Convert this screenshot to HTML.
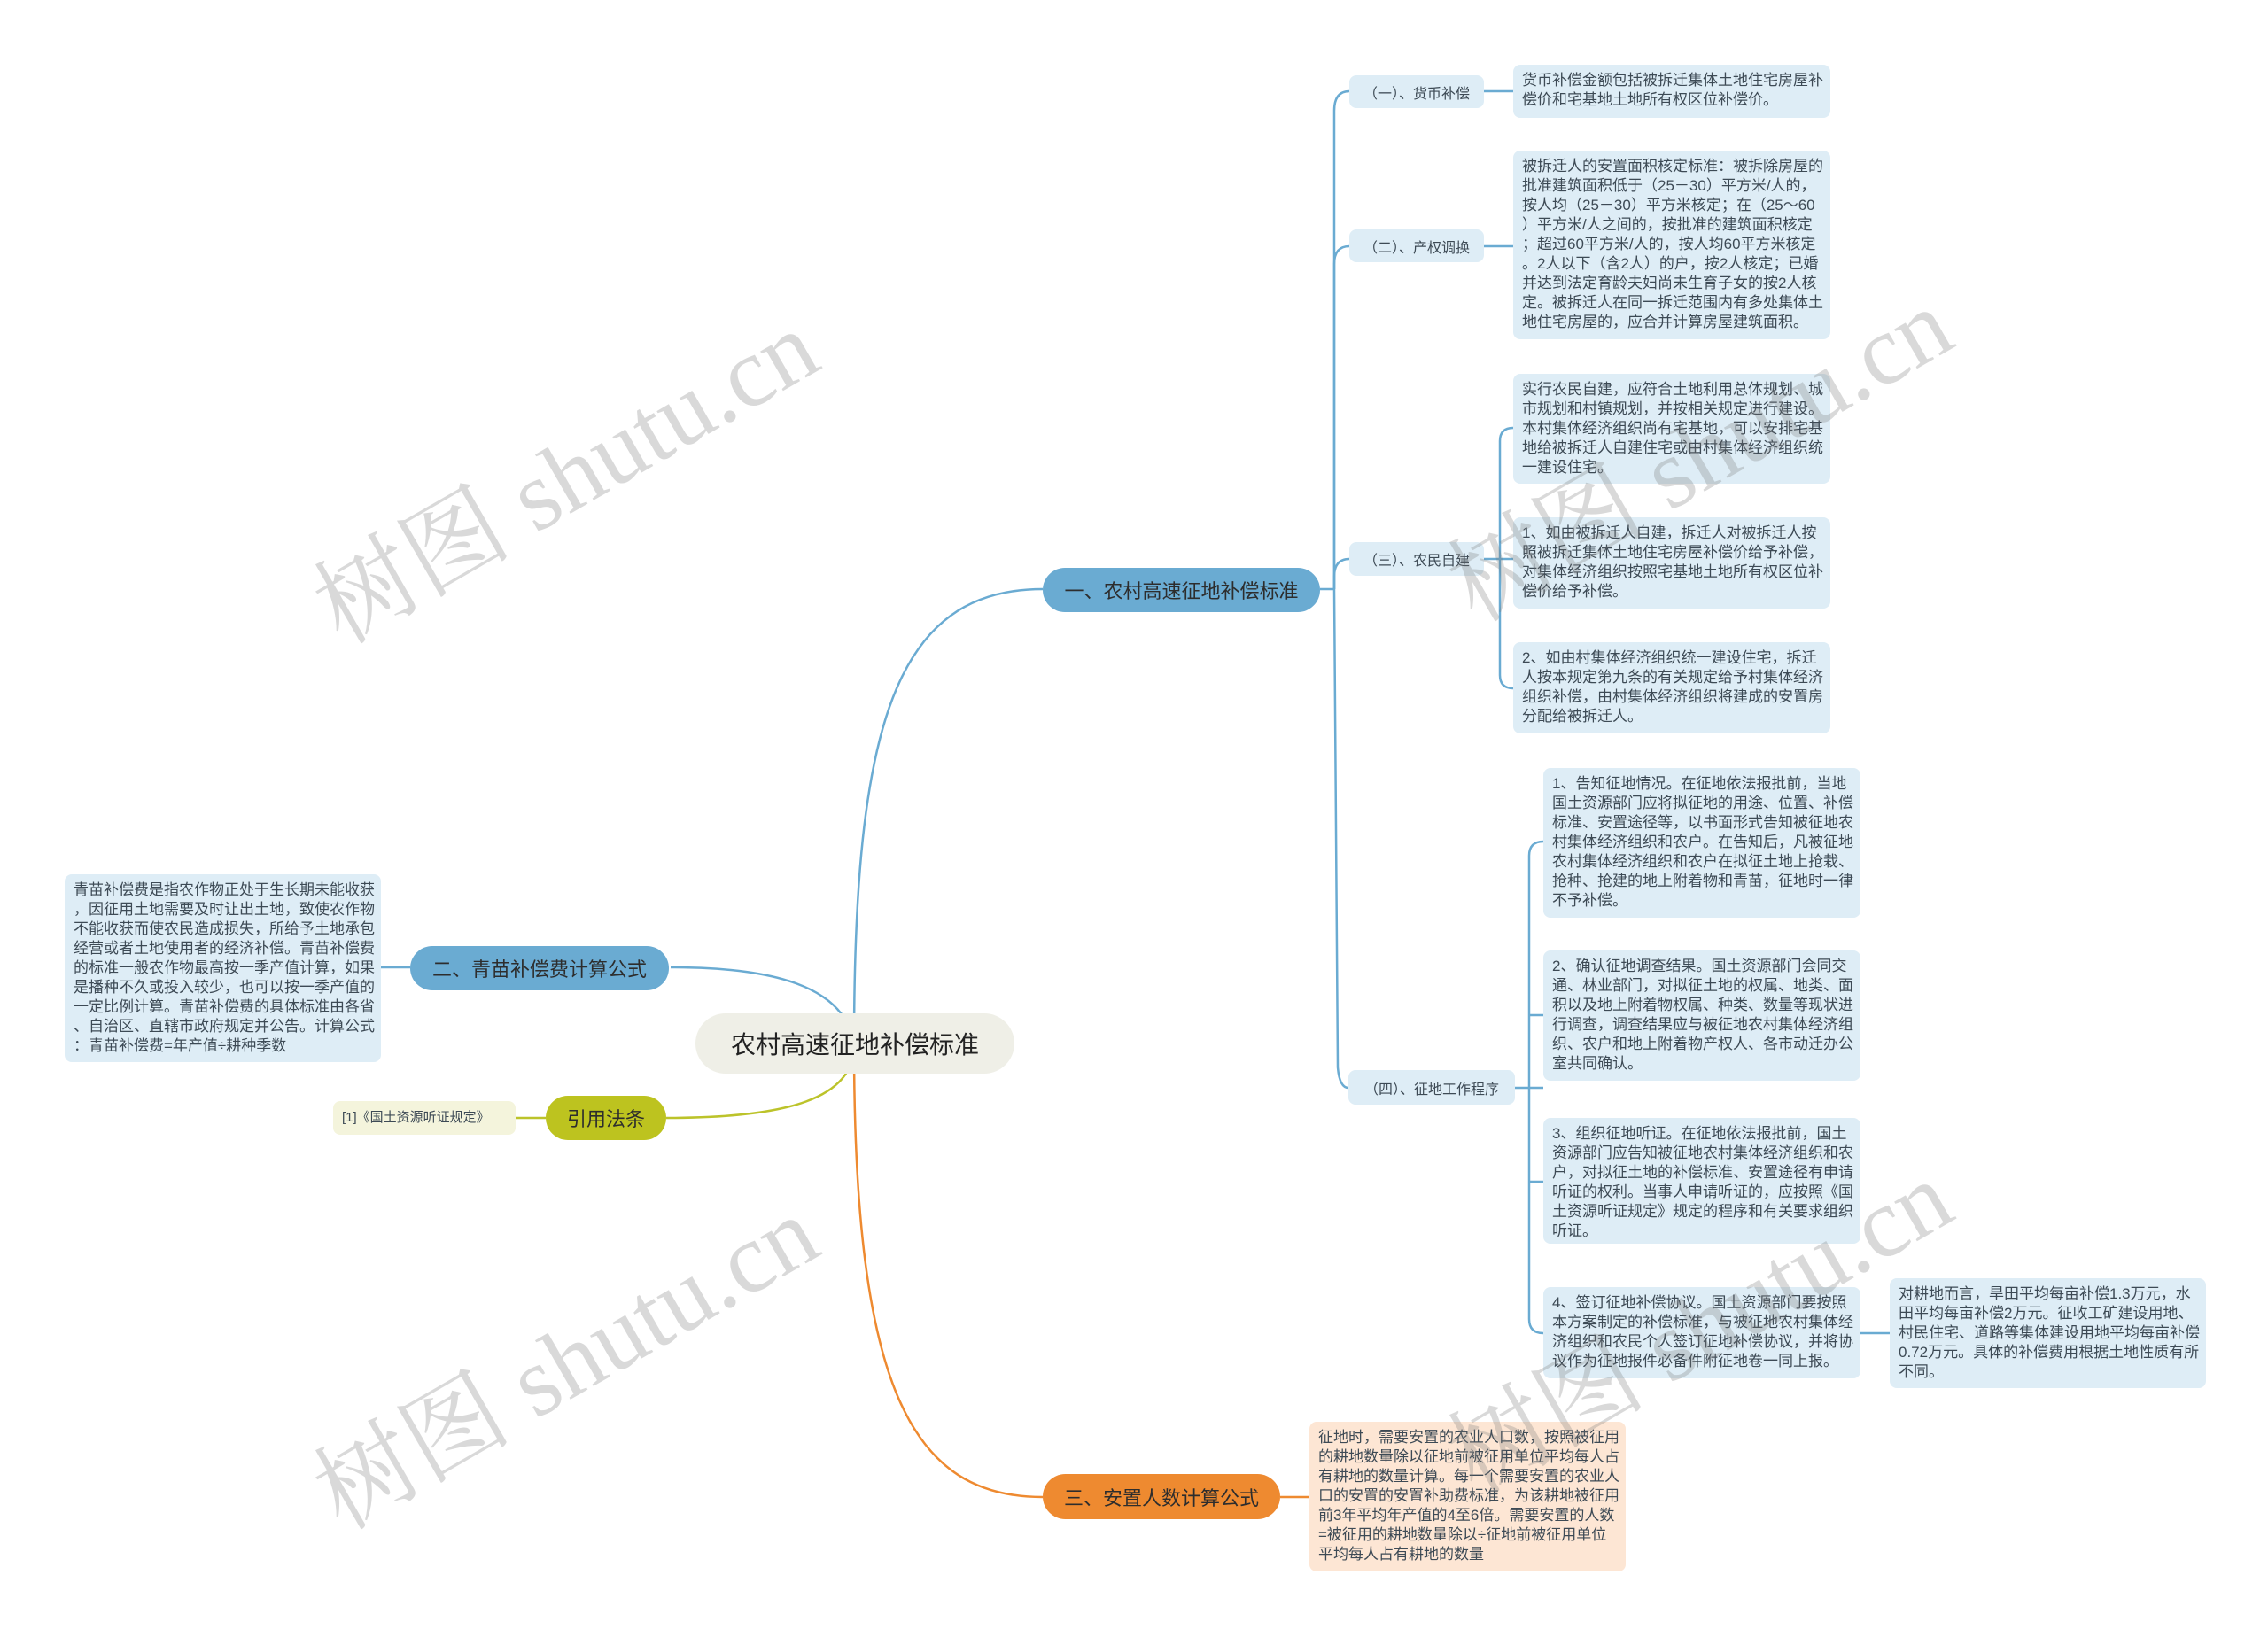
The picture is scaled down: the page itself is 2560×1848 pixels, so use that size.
<!DOCTYPE html>
<html><head><meta charset="utf-8">
<style>
html,body{margin:0;padding:0;}
body{width:2560px;height:1848px;position:relative;background:#fff;overflow:hidden;font-family:"Liberation Sans","Noto Sans CJK SC",sans-serif;color:#3a3a3a;}
.b{position:absolute;box-sizing:border-box;border-radius:8px;background:#deedf6;font-size:17px;line-height:22px;padding:7px 10px;white-space:nowrap;color:#3d4a55;}
.l{position:absolute;box-sizing:border-box;border-radius:8px;background:#deedf6;font-size:16px;display:flex;align-items:center;justify-content:center;white-space:nowrap;color:#3d4a55;}
.m{position:absolute;box-sizing:border-box;border-radius:26px;display:flex;align-items:center;justify-content:center;font-size:22px;white-space:nowrap;color:#2d2d2d;}
.wm{position:absolute;font-family:"Liberation Serif","Noto Serif CJK SC",serif;font-size:112px;color:rgba(120,120,120,0.28);white-space:nowrap;transform:rotate(-30deg);transform-origin:center;}
</style></head><body>
<svg width="2560" height="1848" style="position:absolute;left:0;top:0" fill="none" stroke-width="2.5">
<g stroke="#6aabd2">
<path d="M964,1180 C964,820 1010,665 1177,665"/>
<path d="M964,1180 C955,1112 870,1092 757,1092"/>
<path d="M1490,665 L1506,665"/>
<path d="M1506,665 L1506,125 Q1506,103 1523,103"/>
<path d="M1506,665 L1506,298 Q1506,278 1523,278"/>
<path d="M1506,665 L1506,651 Q1506,631 1523,631"/>
<path d="M1506,665 L1510,1205 Q1512,1228 1522,1228"/>
<path d="M1675,103 L1708,103"/>
<path d="M1675,278 L1708,278"/>
<path d="M1675,631 L1708,631"/>
<path d="M1708,483 Q1693,483 1693,498 L1693,762 Q1693,777 1708,777"/>
<path d="M1710,1228 L1742,1228"/>
<path d="M1742,950 Q1726,950 1726,966 L1726,1489 Q1726,1505 1742,1505"/>
<path d="M1726,1146 L1742,1146"/>
<path d="M1726,1334 L1742,1334"/>
<path d="M2100,1505 L2133,1505"/>
<path d="M430,1092 L463,1092"/>
</g>
<path d="M964,1180 C964,1240 890,1262 752,1262" stroke="#bcc32a"/>
<path d="M582,1262 L616,1262" stroke="#bcc32a"/>
<path d="M964,1180 C964,1570 1030,1690 1177,1690" stroke="#ee8a30"/>
<path d="M1445,1690 L1478,1690" stroke="#ee8a30"/>
</svg>

<div class="m" style="left:785px;top:1144px;width:360px;height:68px;border-radius:34px;background:#efefe7;font-size:28px;color:#222;">农村高速征地补偿标准</div>
<div class="m" style="left:1177px;top:641px;width:313px;height:50px;background:#6aabd2;">一、农村高速征地补偿标准</div>
<div class="m" style="left:463px;top:1068px;width:292px;height:50px;background:#6aabd2;">二、青苗补偿费计算公式</div>
<div class="m" style="left:616px;top:1237px;width:136px;height:50px;background:#bdc31f;">引用法条</div>
<div class="m" style="left:1177px;top:1664px;width:268px;height:51px;background:#ee8a30;">三、安置人数计算公式</div>

<div class="b" style="left:376px;top:1243px;width:206px;height:38px;background:#f4f4dc;font-size:15px;line-height:24px;">[1]《国土资源听证规定》</div>

<div class="b" style="left:73px;top:987px;width:357px;height:212px;">青苗补偿费是指农作物正处于生长期未能收获<br>，因征用土地需要及时让出土地，致使农作物<br>不能收获而使农民造成损失，所给予土地承包<br>经营或者土地使用者的经济补偿。青苗补偿费<br>的标准一般农作物最高按一季产值计算，如果<br>是播种不久或投入较少，也可以按一季产值的<br>一定比例计算。青苗补偿费的具体标准由各省<br>、自治区、直辖市政府规定并公告。计算公式<br>：青苗补偿费=年产值÷耕种季数</div>

<div class="l" style="left:1523px;top:85px;width:152px;height:37px;">（一）、货币补偿</div>
<div class="l" style="left:1523px;top:259px;width:152px;height:37px;">（二）、产权调换</div>
<div class="l" style="left:1523px;top:612px;width:152px;height:38px;">（三）、农民自建</div>
<div class="l" style="left:1522px;top:1208px;width:188px;height:39px;">（四）、征地工作程序</div>

<div class="b" style="left:1708px;top:73px;width:358px;height:60px;">货币补偿金额包括被拆迁集体土地住宅房屋补<br>偿价和宅基地土地所有权区位补偿价。</div>
<div class="b" style="left:1708px;top:170px;width:358px;height:213px;">被拆迁人的安置面积核定标准：被拆除房屋的<br>批准建筑面积低于（25－30）平方米/人的，<br>按人均（25－30）平方米核定；在（25～60<br>）平方米/人之间的，按批准的建筑面积核定<br>；超过60平方米/人的，按人均60平方米核定<br>。2人以下（含2人）的户，按2人核定；已婚<br>并达到法定育龄夫妇尚未生育子女的按2人核<br>定。被拆迁人在同一拆迁范围内有多处集体土<br>地住宅房屋的，应合并计算房屋建筑面积。</div>
<div class="b" style="left:1708px;top:422px;width:358px;height:124px;">实行农民自建，应符合土地利用总体规划、城<br>市规划和村镇规划，并按相关规定进行建设。<br>本村集体经济组织尚有宅基地，可以安排宅基<br>地给被拆迁人自建住宅或由村集体经济组织统<br>一建设住宅。</div>
<div class="b" style="left:1708px;top:584px;width:358px;height:103px;">1、如由被拆迁人自建，拆迁人对被拆迁人按<br>照被拆迁集体土地住宅房屋补偿价给予补偿，<br>对集体经济组织按照宅基地土地所有权区位补<br>偿价给予补偿。</div>
<div class="b" style="left:1708px;top:725px;width:358px;height:103px;">2、如由村集体经济组织统一建设住宅，拆迁<br>人按本规定第九条的有关规定给予村集体经济<br>组织补偿，由村集体经济组织将建成的安置房<br>分配给被拆迁人。</div>

<div class="b" style="left:1742px;top:867px;width:358px;height:169px;">1、告知征地情况。在征地依法报批前，当地<br>国土资源部门应将拟征地的用途、位置、补偿<br>标准、安置途径等，以书面形式告知被征地农<br>村集体经济组织和农户。在告知后，凡被征地<br>农村集体经济组织和农户在拟征土地上抢栽、<br>抢种、抢建的地上附着物和青苗，征地时一律<br>不予补偿。</div>
<div class="b" style="left:1742px;top:1073px;width:358px;height:147px;">2、确认征地调查结果。国土资源部门会同交<br>通、林业部门，对拟征土地的权属、地类、面<br>积以及地上附着物权属、种类、数量等现状进<br>行调查，调查结果应与被征地农村集体经济组<br>织、农户和地上附着物产权人、各市动迁办公<br>室共同确认。</div>
<div class="b" style="left:1742px;top:1262px;width:358px;height:142px;">3、组织征地听证。在征地依法报批前，国土<br>资源部门应告知被征地农村集体经济组织和农<br>户，对拟征土地的补偿标准、安置途径有申请<br>听证的权利。当事人申请听证的，应按照《国<br>土资源听证规定》规定的程序和有关要求组织<br>听证。</div>
<div class="b" style="left:1742px;top:1453px;width:358px;height:103px;">4、签订征地补偿协议。国土资源部门要按照<br>本方案制定的补偿标准，与被征地农村集体经<br>济组织和农民个人签订征地补偿协议，并将协<br>议作为征地报件必备件附征地卷一同上报。</div>
<div class="b" style="left:2133px;top:1443px;width:357px;height:124px;">对耕地而言，旱田平均每亩补偿1.3万元，水<br>田平均每亩补偿2万元。征收工矿建设用地、<br>村民住宅、道路等集体建设用地平均每亩补偿<br>0.72万元。具体的补偿费用根据土地性质有所<br>不同。</div>

<div class="b" style="left:1478px;top:1605px;width:357px;height:169px;background:#fde6d4;">征地时，需要安置的农业人口数，按照被征用<br>的耕地数量除以征地前被征用单位平均每人占<br>有耕地的数量计算。每一个需要安置的农业人<br>口的安置的安置补助费标准，为该耕地被征用<br>前3年平均年产值的4至6倍。需要安置的人数<br>=被征用的耕地数量除以÷征地前被征用单位<br>平均每人占有耕地的数量</div>

<div class="wm" style="left:320px;top:450px;">树图 shutu.cn</div>
<div class="wm" style="left:320px;top:1450px;">树图 shutu.cn</div>
<div class="wm" style="left:1600px;top:425px;">树图 shutu.cn</div>
<div class="wm" style="left:1600px;top:1410px;">树图 shutu.cn</div>
</body></html>
